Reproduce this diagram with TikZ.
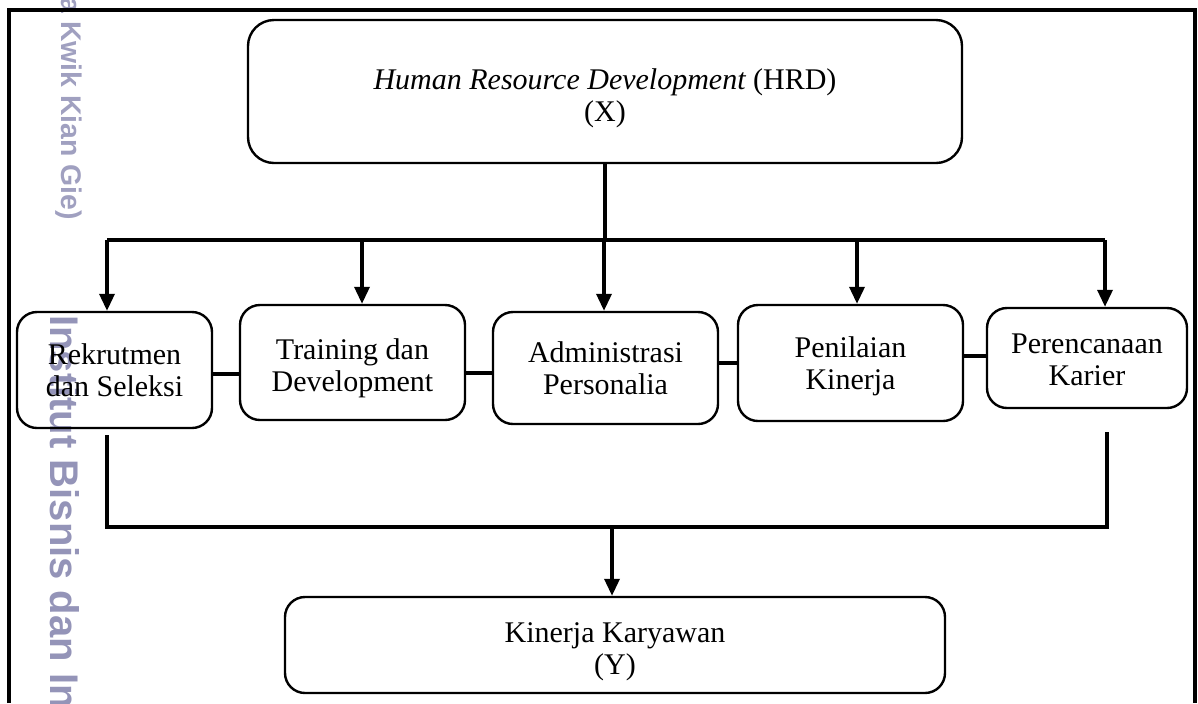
\documentclass[tikz,border=0pt]{standalone}
\usepackage{fontspec}
\setmainfont{Liberation Serif}
\newfontfamily\markfont{Liberation Sans}
\usetikzlibrary{arrows.meta}
\definecolor{wmark}{RGB}{148,148,184}
\definecolor{wmarklight}{RGB}{160,160,192}
\tikzset{%
  blok/.style   = {shape=rectangle, rounded corners=10pt,%
                   draw, line width=1.2pt, inner sep=0pt},%
  induk/.style  = {blok, rounded corners=13pt},%
  isi/.style    = {align=center, inner sep=0pt,%
                   font=\fontsize{15}{16}\selectfont},%
  garis/.style  = {line width=1.7pt},%
  panah/.style  = {garis, -{Triangle[length=8.5pt,width=7.5pt]}},%
  tanda/.style  = {rotate=-90, anchor=base west, inner sep=0pt, text=wmark}%
}

\begin{document}
\begin{tikzpicture}[x=0.5pt,y=-0.5pt]
	\useasboundingbox (0,0) rectangle (1198,703);
	\clip (0,0) rectangle (1198,703);
	\node[tanda, text=wmarklight, font=\markfont\bfseries\fontsize{14.2}{15}\selectfont] (wmatas) at (61,-3) {a Kwik Kian Gie)};
	\node[tanda, font=\markfont\bfseries\fontsize{20}{20}\selectfont] (wmbawah) at (50,315) {Institut Bisnis dan In};
	\draw[line width=1.6pt] (9,703) -- (9,10) -- (1195,10) -- (1195,703);
	\node[induk, minimum width=357pt, minimum height=71.5pt] (hrd) at (605,91.5) {};
	\node[blok, minimum width=97.5pt, minimum height=58pt] (rek) at (114.5,370) {};
	\node[blok, minimum width=112.5pt, minimum height=57.5pt] (train) at (352.5,362.5) {};
	\node[blok, minimum width=112.5pt, minimum height=56pt] (admin) at (605.5,368) {};
	\node[blok, minimum width=112.5pt, minimum height=58pt] (nilai) at (850.5,363) {};
	\node[blok, minimum width=100pt, minimum height=50pt] (karier) at (1087,358) {};
	\node[blok, minimum width=330pt, minimum height=48pt] (kinerja) at (615,645) {};
	\node[isi] (hrdisi) at ([yshift=-3.5pt]hrd.center) {{\itshape Human Resource Development} (HRD)\\(X)};
	\node[isi] (rekisi) at (rek.center) {Rekrutmen\\dan Seleksi};
	\node[isi] (trainisi) at ([yshift=-3pt]train.center) {Training dan\\Development};
	\node[isi] (adminisi) at (admin.center) {Administrasi\\Personalia};
	\node[isi] (nilaiisi) at ([yshift=-1.5pt]nilai.center) {Penilaian\\Kinerja};
	\node[isi] (karierisi) at ([yshift=-1pt]karier.center) {Perencanaan\\Karier};
	\node[isi] (kinerjaisi) at ([yshift=-3.5pt]kinerja.center) {Kinerja Karyawan\\(Y)};
	\coordinate (cabang) at (605,240);
	\coordinate (cabkiri) at (107,240);
	\coordinate (cabkanan) at (1105,240);
	\draw[garis] (hrd.south) -- (cabang);
	\draw[garis] (cabkiri) -- (cabkanan);
	\foreach \x/\n in {107/rek,362/train,604/admin,857/nilai,1105/karier}{
		\coordinate (t) at (\x,240);
		\draw[panah] (t) -- (t |- \n.north);
	}
	\draw[garis] ([yshift=-2pt]rek.east) -- ([yshift=-2pt]rek.east -| train.west);
	\draw[garis] ([yshift=-5.25pt]train.east) -- ([yshift=-5.25pt]train.east -| admin.west);
	\draw[garis] ([yshift=2.5pt]admin.east) -- ([yshift=2.5pt]admin.east -| nilai.west);
	\draw[garis] ([yshift=3.5pt]nilai.east) -- ([yshift=3.5pt]nilai.east -| karier.west);
	\coordinate (kumpul1) at (107,435);
	\coordinate (kumpul2) at (107,527);
	\coordinate (kumpul3) at (1107,527);
	\coordinate (kumpul4) at (1107,432);
	\draw[garis] (kumpul1) -- (kumpul2) -- (kumpul3) -- (kumpul4);
	\coordinate (turun) at (612,527);
	\draw[panah] (turun) -- (turun |- kinerja.north);
\end{tikzpicture}
\end{document}
